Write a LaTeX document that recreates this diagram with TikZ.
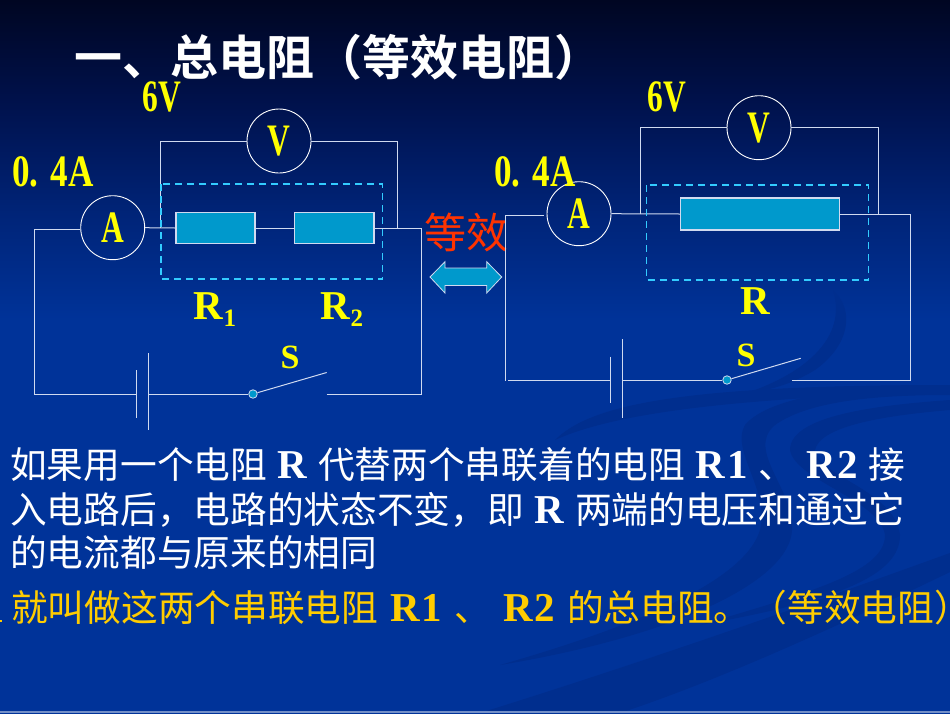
\documentclass[tikz,border=0pt]{standalone}
\usepackage{fontspec}
\setmainfont{Liberation Serif}
\newfontfamily\cjk{Noto Sans CJK SC}
\newfontfamily\cjkb{Noto Sans CJK SC}[BoldFont={Noto Sans CJK SC Bold}]
\newcommand{\Lat}[1]{{\fontspec{Liberation Serif}\fontsize{41}{41}\selectfont\bfseries #1}}
\newcommand{\Gp}{\hspace{10.7pt}}
\newcommand{\Gq}{\hspace{12pt}}
\definecolor{bgtop}{HTML}{000622}
\definecolor{bgup}{HTML}{00124E}
\definecolor{bgmid}{HTML}{002478}
\definecolor{bgbot}{HTML}{003399}
\definecolor{swoosh}{HTML}{002E8E}
\definecolor{wire}{HTML}{D0DAF0}
\definecolor{dash}{HTML}{33CCFF}
\definecolor{res}{HTML}{0099CC}
\definecolor{lab}{HTML}{FFFF00}
\definecolor{gold}{HTML}{FFCC00}
\definecolor{redt}{HTML}{FF3300}
\pgfdeclareverticalshading{bgshade}{100bp}{color(0bp)=(bgbot);color(52.5bp)=(bgbot);color(60bp)=(bgmid);color(67.5bp)=(bgup);color(75bp)=(bgtop);color(100bp)=(bgtop)}
\tikzset{
  wireline/.style={draw=wire,line width=1pt},
  meter/.style={circle,draw=white,line width=0.9pt,minimum size=64pt,inner sep=0pt},
  resbox/.style={rectangle,draw=wire,fill=res,line width=1.1pt,inner sep=0pt},
  dashbox/.style={draw=dash,line width=1.5pt,dash pattern=on 7pt off 5pt},
  dotnode/.style={circle,draw=wire,fill=res,line width=0.8pt,minimum size=8.5pt,inner sep=0pt},
  mono/.style={text=lab,font=\fontsize{45}{45}\selectfont\bfseries,xscale=0.7,transform shape,inner sep=0pt},
  rlab/.style={text=lab,font=\fontsize{41}{41}\selectfont\bfseries,inner sep=0pt},
  slab/.style={text=lab,font=\fontsize{34}{34}\selectfont\bfseries,inner sep=0pt},
  body/.style={anchor=west,inner sep=0pt,font=\fontsize{36.7}{36.7}\selectfont\cjk},
}
\newcommand{\Sb}[1]{\raisebox{-7pt}{\fontsize{25}{25}\selectfont #1}}
\begin{document}
\begin{tikzpicture}[x=1pt,y=-1pt]
\useasboundingbox (0,0) rectangle (950,713);
\begin{scope}
\clip (0,0) rectangle (950,713);
\shade[shading=bgshade] (0,0) rectangle (950,713);
% background swooshes
\fill[swoosh] (480,713) .. controls (650,660) and (820,600) .. (950,553) -- (950,572) .. controls (840,625) and (720,680) .. (620,713) -- cycle;
\fill[swoosh] (950,385) .. controls (860,385) and (770,395) .. (745,425) .. controls (730,450) and (770,490) .. (760,530) .. controls (745,580) and (640,625) .. (500,665) .. controls (680,635) and (790,580) .. (792,530) .. controls (795,490) and (745,450) .. (775,425) .. controls (810,400) and (880,395) .. (950,395) -- cycle;
\fill[swoosh] (950,400) .. controls (880,405) and (790,415) .. (790,450) .. controls (795,480) and (880,500) .. (885,535) .. controls (885,570) and (820,590) .. (700,625) .. controls (840,600) and (900,575) .. (900,535) .. controls (895,490) and (815,475) .. (815,450) .. controls (820,425) and (890,415) .. (950,410) -- cycle;
\fill[swoosh] (555,440) .. controls (590,405) and (680,385) .. (950,385) -- (950,392) .. controls (720,398) and (610,415) .. (555,440) -- cycle;
\fill[swoosh] (833,290) .. controls (855,310) and (850,345) .. (815,370) .. controls (790,385) and (770,390) .. (740,395) .. controls (790,380) and (850,345) .. (833,290) -- cycle;
\fill[bgbot!55!white] (0,711) rectangle (950,713);
\node[body,text=gold] (tail) at (11,608) {就叫做这两个串联电阻\Gq\Lat{R\kern2pt 1}\Gq 、\Gq\Lat{R\kern2pt 2}\Gq 的总电阻。（等效电阻\rlap{）}};
\fill[gold] (0,620) rectangle (2,622);
\end{scope}
% title
\node[anchor=base west,inner sep=0pt,text depth=0pt,text=white,font=\fontsize{48}{48}\selectfont\cjkb\bfseries] (title) at (74,75) {一、总电阻（等效电阻）};
% left circuit
\node[meter] (A1) at (112.7,227.7) {};
\node[meter] (V1) at (279,141) {};
\node[resbox,minimum width=79pt,minimum height=31.5pt] (R1) at (215.5,228) {};
\node[resbox,minimum width=79.5pt,minimum height=31.5pt] (R2) at (334.2,228) {};
\node[dotnode] (D1) at (253,394) {};
\coordinate (TL1) at (34,229);
\coordinate (BL1) at (34,394);
\coordinate (BR1) at (421.7,394);
\coordinate (TR1) at (421.7,228);
\coordinate (P1) at (136.5,394);
\coordinate (P2) at (148.5,394);
\coordinate (SW1) at (326.7,394);
\coordinate (SWB1) at (326.7,372.5);
\coordinate (VL1) at (160.5,228);
\coordinate (VR1) at (397.7,228);
\draw[wireline] (A1.west|-TL1) -- (TL1) -- (BL1) -- (P1);
\draw[wireline] (P1|-0,370) -- (P1|-0,418);
\draw[wireline] (P2|-0,353) -- (P2|-0,430);
\draw[wireline] (P2) -- (D1);
\draw[wireline] (D1) -- (SWB1);
\draw[wireline] (SW1) -- (BR1) -- (TR1) -- (R2.east);
\draw[wireline] (R1.east) -- (R2.west);
\draw[wireline] (A1.east) -- (R1.west);
\draw[wireline] (VL1) |- (V1.west);
\draw[wireline] (VR1) |- (V1.east);
\draw[dashbox] (161,184) rectangle (382.5,279);
\node[mono] (U1) at (162,97) {6V};
\node[mono,xscale=1.114] (I1) at (53,172) {0.\hspace{16pt}4A};
\node[mono] at (A1) {A};
\node[mono] at (V1) {V};
\node[rlab] (LR1) at (215,310) {R\Sb{1}};
\node[rlab] (LR2) at (342,310) {R\Sb{2}};
\node[slab] (LS1) at (290,357) {S};
% equivalence
\node[inner sep=0pt,text=redt,font=\fontsize{42}{42}\selectfont\cjk] (EQ) at (466.5,232) {等效};
\path[fill=res,draw=wire,line width=0.8pt] (430,277) -- (445,261.7) -- (445,268) -- (486.7,268) -- (486.7,261.7) -- (501.7,277) -- (486.7,293) -- (486.7,285.5) -- (445,285.5) -- (445,293) -- cycle;
% right circuit
\node[meter] (A2) at (579,213.7) {};
\node[meter] (V2) at (759,127.7) {};
\node[resbox,minimum width=159pt,minimum height=32pt] (R3) at (760.2,214) {};
\node[dotnode] (D2) at (727,380) {};
\coordinate (TL2) at (505.7,215.7);
\coordinate (BL2) at (505.7,381);
\coordinate (BR2) at (910.7,380);
\coordinate (TR2) at (910.7,214);
\coordinate (P3) at (610.7,380);
\coordinate (P4) at (622.7,380);
\coordinate (SW2) at (792,380);
\coordinate (SWB2) at (800.7,358.3);
\coordinate (VL2) at (640.5,214);
\coordinate (VR2) at (878,214);
\draw[wireline] (544,215.7) -- (TL2) -- (BL2);
\draw[wireline] (508,380) -- (P3);
\draw[wireline] (P3|-0,356.7) -- (P3|-0,403);
\draw[wireline] (P4|-0,339) -- (P4|-0,418);
\draw[wireline] (P4) -- (D2);
\draw[wireline] (D2) -- (SWB2);
\draw[wireline] (SW2) -- (BR2) -- (TR2) -- (R3.east);
\draw[wireline] (A2.east) -- (R3.west);
\draw[wireline] (VL2) |- (V2.west);
\draw[wireline] (VR2) |- (V2.east);
\draw[dashbox] (646.5,185) rectangle (868.5,280);
\node[mono] (U2) at (667,97) {6V};
\node[mono,xscale=1.114] (I2) at (535,172) {0.\hspace{16pt}4A};
\node[mono] at (A2) {A};
\node[mono] at (V2) {V};
\node[rlab] (LR3) at (755,301) {R};
\node[slab] (LS2) at (746,355) {S};
% body text
\node[body,text=white] (L1) at (10,465) {如果用一个电阻\Gp\Lat{R}\Gp 代替两个串联着的电阻\Gp\Lat{R\kern2pt 1}\Gp 、\Gp\Lat{R\kern2pt 2}\Gp 接};
\node[body,text=white] (L2) at (10,510) {入电路后，电路的状态不变，即\Gp\Lat{R}\Gp 两端的电压和通过它};
\node[body,text=white] (L3) at (10,553) {的电流都与原来的相同};
\end{tikzpicture}
\end{document}
